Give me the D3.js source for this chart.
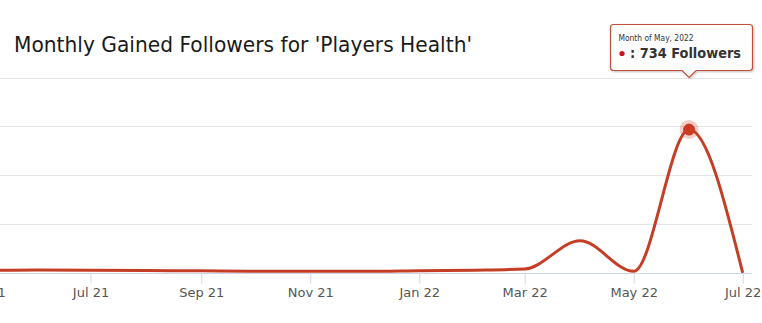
<!DOCTYPE html>
<html>
<head>
<meta charset="utf-8">
<script src="https://cdn.jsdelivr.net/npm/d3@7"></script>
<style>
  body { margin: 0; background: #fff; }
  svg { display: block; font-family: "DejaVu Sans", sans-serif; }
</style>
</head>
<body>
<div id="chart"></div>
<script>
// data: month of the gain and followers gained (plotted at the month's end)
var months = ["2021-04", "2021-05", "2021-06", "2021-07", "2021-08", "2021-09", "2021-10",
              "2021-11", "2021-12", "2022-01", "2022-02", "2022-03", "2022-04", "2022-05", "2022-06"];
var followers = [14, 17, 16, 14, 13, 11, 11, 10, 13, 16, 22, 166, 10, 734, 2];
var yTicks = [0, 250, 500, 750, 1000];
var highlight = "2022-05";

var width = 762, height = 323;

var parseMonth = d3.timeParse("%Y-%m");
var data = months.map(function(m, i) {
  var d = parseMonth(m);
  return { month: d, date: d3.timeMonth.offset(d, 1), value: followers[i] };
});

var svg = d3.select("#chart").append("svg")
    .attr("width", width)
    .attr("height", height);

// scales (the plot area runs off the left edge of the picture)
var x = d3.scaleTime()
    .domain([new Date(2021, 4, 1), new Date(2022, 6, 1)])
    .range([-18.5, 742.7]);
var y = d3.scaleLinear()
    .domain([0, 1000])
    .range([273.3, 77.5]);

// gridlines
svg.append("g")
  .selectAll("line")
  .data(yTicks.slice(1))
  .enter().append("line")
    .attr("x1", 0)
    .attr("x2", 752)
    .attr("y1", function(d) { return Math.round(y(d)) + 0.5; })
    .attr("y2", function(d) { return Math.round(y(d)) + 0.5; })
    .style("stroke", "#e6e6e6")
    .style("stroke-width", 1);

// x axis
var xAxis = d3.axisBottom(x)
    .ticks(d3.timeMonth.every(2))
    .tickFormat(d3.timeFormat("%b %y"))
    .tickSize(10)
    .tickSizeOuter(0);

var gx = svg.append("g")
    .attr("transform", "translate(0," + (Math.round(y(0)) + 0.5) + ")")
    .call(xAxis);
gx.select(".domain").remove();
gx.append("line")
    .attr("x1", 0).attr("x2", 752)
    .style("stroke", "#ccd6eb");
gx.selectAll(".tick line").style("stroke", "#ccd6eb");
gx.selectAll(".tick text")
    .attr("y", 14)
    .style("font-family", "DejaVu Sans, sans-serif")
    .style("font-size", "13px")
    .style("fill", "#555");

// line
var line = d3.line()
    .curve(d3.curveMonotoneX)
    .x(function(d) { return x(d.date); })
    .y(function(d) { return y(d.value); });

svg.append("path")
    .datum(data)
    .attr("d", line)
    .style("fill", "none")
    .style("stroke", "#c63d25")
    .style("stroke-width", 3)
    .style("stroke-linejoin", "round");

// hovered point
var hp = data.filter(function(d) { return d3.timeFormat("%Y-%m")(d.month) === highlight; })[0];
svg.append("circle")
    .attr("cx", x(hp.date)).attr("cy", y(hp.value))
    .attr("r", 9.5)
    .style("fill", "#c63d25")
    .style("opacity", 0.25);
svg.append("circle")
    .attr("cx", x(hp.date)).attr("cy", y(hp.value))
    .attr("r", 5.5)
    .style("fill", "#cc3a22")
    .style("stroke", "#c63d25")
    .style("stroke-width", 1);

// title
svg.append("text")
    .attr("x", 14)
    .attr("y", 52)
    .style("font-size", "21px")
    .style("fill", "#1a1a1a")
    .attr("textLength", 458)
    .attr("lengthAdjust", "spacingAndGlyphs")
    .text("Monthly Gained Followers for 'Players Health'");

// tooltip
var px = x(hp.date);
var tip = svg.append("g");
var defs = svg.append("defs");
var filt = defs.append("filter").attr("id", "shadow")
    .attr("x", "-10%").attr("y", "-20%").attr("width", "130%").attr("height", "150%");
filt.append("feDropShadow")
    .attr("dx", 1).attr("dy", 1).attr("stdDeviation", 1.2)
    .attr("flood-color", "#000").attr("flood-opacity", 0.25);

var bx0 = 610.5, bx1 = 752.5, by0 = 24.5, by1 = 70.5, r = 3;
var pathD = "M" + (bx0 + r) + "," + by0 +
  " L" + (bx1 - r) + "," + by0 + " Q" + bx1 + "," + by0 + " " + bx1 + "," + (by0 + r) +
  " L" + bx1 + "," + (by1 - r) + " Q" + bx1 + "," + by1 + " " + (bx1 - r) + "," + by1 +
  " L" + (px + 7) + "," + by1 + " L" + px + "," + (by1 + 7) + " L" + (px - 7) + "," + by1 +
  " L" + (bx0 + r) + "," + by1 + " Q" + bx0 + "," + by1 + " " + bx0 + "," + (by1 - r) +
  " L" + bx0 + "," + (by0 + r) + " Q" + bx0 + "," + by0 + " " + (bx0 + r) + "," + by0 + " Z";
tip.append("path")
    .attr("d", pathD)
    .style("fill", "#fff")
    .style("fill-opacity", 0.97)
    .style("stroke", "#c0503a")
    .style("stroke-width", 1.2)
    .attr("filter", "url(#shadow)");

tip.append("text")
    .attr("x", 618.5).attr("y", 41)
    .style("font-size", "9.5px")
    .style("fill", "#333")
    .attr("textLength", 75)
    .attr("lengthAdjust", "spacingAndGlyphs")
    .text("Month of " + d3.timeFormat("%B, %Y")(hp.month));
tip.append("circle")
    .attr("cx", 622).attr("cy", 53.5).attr("r", 2.6)
    .style("fill", "#d0121f");
tip.append("text")
    .attr("x", 630).attr("y", 58.3)
    .style("font-size", "14px")
    .style("font-weight", "bold")
    .style("fill", "#333")
    .attr("textLength", 111)
    .attr("lengthAdjust", "spacingAndGlyphs")
    .text(": " + hp.value + " Followers");
</script>
</body>
</html>
